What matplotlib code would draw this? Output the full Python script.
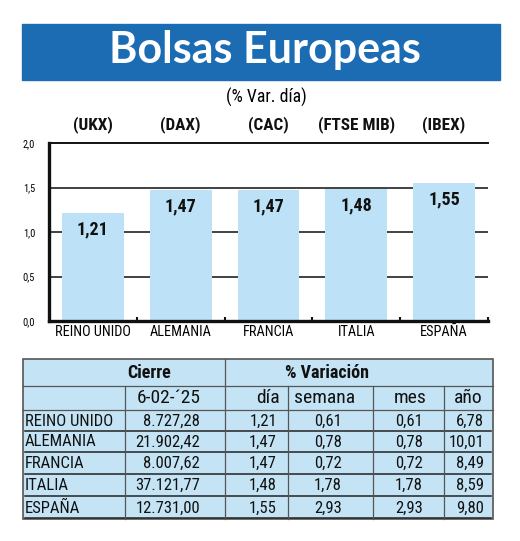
import matplotlib
matplotlib.use("Agg")
import matplotlib.pyplot as plt
from matplotlib import font_manager as fm
from matplotlib.patches import Rectangle
import numpy as np

# =========================
# Data
# =========================
countries = ["REINO UNIDO", "ALEMANIA", "FRANCIA", "ITALIA", "ESPAÑA"]
indices = ["(UKX)", "(DAX)", "(CAC)", "(FTSE MIB)", "(IBEX)"]
var_dia = [1.21, 1.47, 1.47, 1.48, 1.55]
cierre = ["8.727,28", "21.902,42", "8.007,62", "37.121,77", "12.731,00"]
var_semana = [0.61, 0.78, 0.72, 1.78, 2.93]
var_mes = [0.61, 0.78, 0.72, 1.78, 2.93]
var_anio = [6.78, 10.01, 8.49, 8.59, 9.80]
yticks = [0.0, 0.5, 1.0, 1.5, 2.0]
fecha = "6-02-´25"

# =========================
# Style
# =========================
W, H = 520, 541
banner_color = "#1c6cb4"
bar_color = "#bde2f7"
table_color = "#c4e4f5"
ink = "#111111"


def condensed_font(bold):
    # look for an installed condensed face, else fall back to a plain sans
    prefer = ["Roboto", "Roboto Condensed", "Noto Sans", "Open Sans", "Liberation Sans Narrow",
              "DejaVu Sans"]
    best = None
    for f in fm.fontManager.ttflist:
        if f.stretch != "condensed" or f.style != "normal":
            continue
        w = f.weight if isinstance(f.weight, int) else 400
        if (w >= 600) != bold:
            continue
        fname = f.fname.lower()
        if "extra" in fname or "semi" in fname or "ultra" in fname:
            continue
        if "light" in fname or "medium" in fname or "black" in fname or "thin" in fname:
            continue
        rank = prefer.index(f.name) if f.name in prefer else len(prefer)
        if best is None or rank < best[0]:
            best = (rank, f.fname)
    if best is None:
        return fm.FontProperties(family="Liberation Sans", weight="bold" if bold else "normal")
    return fm.FontProperties(fname=best[1])


def fp(bold, size):
    p = condensed_font(bold).copy()
    p.set_size(size)
    return p


def fmt(v):
    return f"{v:.2f}".replace(".", ",")


fig = plt.figure(figsize=(W / 100, H / 100), dpi=100)

# overlay in pixel coordinates
bg = fig.add_axes([0, 0, 1, 1])
bg.set_xlim(0, W)
bg.set_ylim(H, 0)
bg.axis("off")

# title banner
bg.add_patch(Rectangle((22, 24), 478, 56, color=banner_color, zorder=1))
bg.text(265, 50, "Bolsas Europeas", color="white", fontsize=31, fontweight="bold",
        family=["Lato", "DejaVu Sans"], ha="center", va="center", zorder=2)
bg.text(266, 97, "(% Var. día)", fontproperties=fp(False, 12.8), ha="center", va="center")

# =========================
# Bar chart
# =========================
ax = fig.add_axes([49 / W, 1 - 321 / H, 439 / W, 178 / H])
x = np.arange(len(countries))
ax.bar(x, var_dia, width=0.705, color=bar_color, zorder=2)
for yv in yticks[1:-1]:
    ax.axhline(yv, color="#333333", lw=1.3, zorder=1)

ax.set_xlim(-0.5, len(countries) - 0.5)
ax.set_ylim(0, 2.0)
ax.set_yticks(yticks)
ax.set_yticklabels([f"{v:.1f}".replace(".", ",") for v in yticks], fontproperties=fp(False, 7.5))
ax.tick_params(axis="y", length=0, pad=10)
ax.set_xticks(x)
ax.set_xticklabels(countries, fontproperties=fp(False, 10.3))
ax.tick_params(axis="x", length=0, pad=3)
ax.set_xticks(list(x[1:] - 0.5) + [len(countries) - 0.5], minor=True)
ax.tick_params(axis="x", which="minor", direction="in", length=3, width=1.5, color=ink)

ax.spines["right"].set_visible(False)
ax.spines["left"].set_linewidth(2.4)
ax.spines["bottom"].set_linewidth(2.4)
ax.spines["top"].set_linewidth(1.4)
for s in ax.spines.values():
    s.set_color(ink)

for xi, v in zip(x, var_dia):
    ax.annotate(fmt(v), (xi, v), xytext=(0, -5), textcoords="offset points",
                ha="center", va="top", fontproperties=fp(True, 13), color=ink)
for xi, lbl in zip(x, indices):
    ax.annotate(lbl, (xi, 1.0), xycoords=("data", "axes fraction"), xytext=(0, 13),
                textcoords="offset points", ha="center", va="center",
                fontproperties=fp(True, 12.3), color=ink)

# =========================
# Table
# =========================
cols = [23, 125, 225, 288, 373, 444, 493]
rows = [359, 386, 410, 431, 452, 474, 496, 519]
line_c = "#222222"

bg.add_patch(Rectangle((cols[0], rows[0]), cols[-1] - cols[0], rows[-1] - rows[0],
                       facecolor=table_color, edgecolor="#555555", lw=1.2, zorder=1))
# horizontal lines
bg.plot([cols[0], cols[-1]], [rows[1], rows[1]], color="#555555", lw=0.9, zorder=2)
bg.plot([cols[0], cols[-1]], [rows[2], rows[2]], color="#555555", lw=0.9, zorder=2)
for r in rows[3:-1]:
    bg.plot([cols[0] + 2, cols[-1] - 2], [r, r], color=line_c, lw=1.1, zorder=2)
bg.plot([cols[0] + 2, cols[-1] - 2], [rows[-1] - 1, rows[-1] - 1], color=line_c, lw=1.1, zorder=2)
# vertical lines
bg.plot([cols[2], cols[2]], [rows[0], rows[-1]], color="#555555", lw=0.9, zorder=2)
for c in cols[1:2] + cols[3:6]:
    bg.plot([c, c], [rows[1], rows[-1]], color="#555555", lw=0.9, zorder=2)

head_y = (rows[0] + rows[1]) / 2
bg.text(149, head_y, "Cierre", ha="center", va="center",
        fontproperties=fp(True, 13), color=ink)
bg.text(327, head_y, "% Variación", ha="center", va="center",
        fontproperties=fp(True, 13), color=ink)
sub_y = (rows[1] + rows[2]) / 2
sub = dict(va="center", color=ink, fontproperties=fp(False, 14))
bg.text(169, sub_y, fecha, ha="center", **sub)
bg.text(280, sub_y, "día", ha="right", **sub)
bg.text(325, sub_y, "semana", ha="center", **sub)
bg.text(410, sub_y, "mes", ha="center", **sub)
bg.text(468, sub_y, "año", ha="center", **sub)

cell = dict(va="center", color=ink, fontproperties=fp(False, 12))
for i in range(len(countries)):
    yc = (rows[2 + i] + rows[3 + i]) / 2 + 0.5
    bg.text(cols[0] + 2, yc, countries[i], ha="left", **cell)
    bg.text(200, yc, cierre[i], ha="right", **cell)
    bg.text(277, yc, fmt(var_dia[i]), ha="right", **cell)
    bg.text(328, yc, fmt(var_semana[i]), ha="center", **cell)
    bg.text(409, yc, fmt(var_mes[i]), ha="center", **cell)
    bg.text(484, yc, fmt(var_anio[i]), ha="right", **cell)

fig.savefig("out.png", dpi=100)
